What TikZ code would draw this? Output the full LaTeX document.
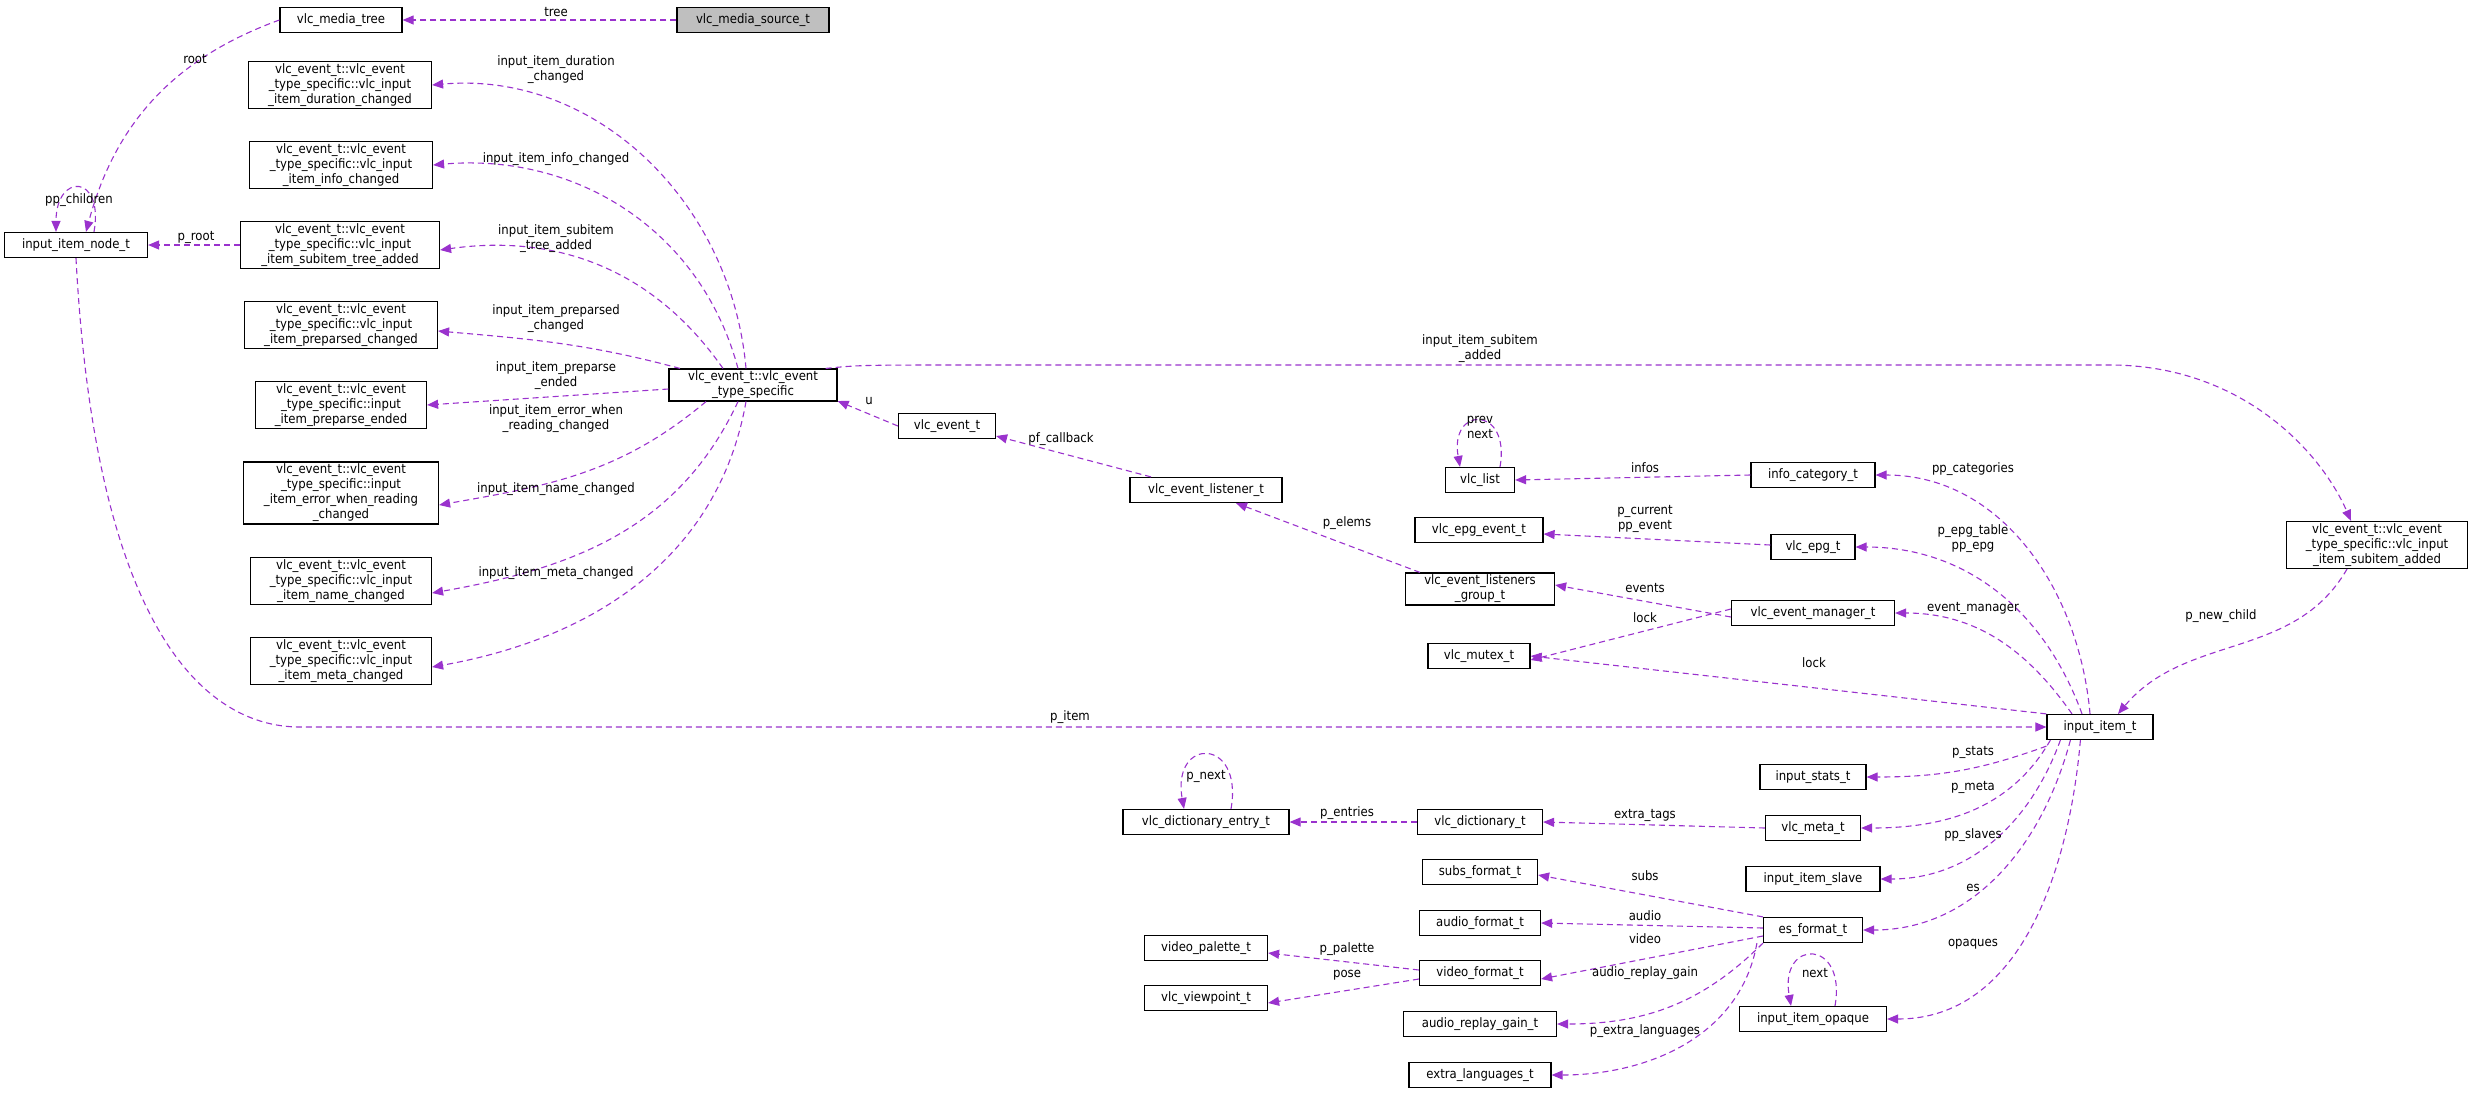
\documentclass[tikz,border=0pt]{standalone}
\usepackage{fontspec}
\setmainfont{DejaVu Sans Condensed}
\usetikzlibrary{arrows.meta, positioning}
\definecolor{edgecol}{HTML}{9A32CD}
\tikzstyle{edge} = [edgecol, dashed, line width=1.1pt, dash pattern=on 6pt off 4pt, -{Triangle[length=11pt,width=9pt]}]

\begin{document}
\begin{tikzpicture}[x=1pt, y=-1pt,
    cls/.style={draw, line width=1.2pt, align=center, inner sep=2pt, minimum height=25pt,
      font=\fontsize{13}{15}\selectfont},
    lbl/.style={align=center, inner sep=0pt, font=\fontsize{13}{15}\selectfont}
  ]
  \useasboundingbox (0,0) rectangle (2473,1093);

  % left column
  \node[cls, fill=black!25, minimum width=152pt] (src) at (753,20) {vlc\_media\_source\_t};
  \node[cls, minimum width=122pt] (mtree) at (341,20) {vlc\_media\_tree};
  \node[cls, minimum width=143pt] (inode) at (76,245) {input\_item\_node\_t};
  \node[cls, minimum width=183pt] (dur) at (340,85) {vlc\_event\_t::vlc\_event\\\_type\_specific::vlc\_input\\\_item\_duration\_changed};
  \node[cls, minimum width=183pt] (info) at (341,165) {vlc\_event\_t::vlc\_event\\\_type\_specific::vlc\_input\\\_item\_info\_changed};
  \node[cls, minimum width=199pt] (stree) at (340,245) {vlc\_event\_t::vlc\_event\\\_type\_specific::vlc\_input\\\_item\_subitem\_tree\_added};
  \node[cls, minimum width=193pt] (prsd) at (341,325) {vlc\_event\_t::vlc\_event\\\_type\_specific::vlc\_input\\\_item\_preparsed\_changed};
  \node[cls, minimum width=171pt] (prend) at (341,405) {vlc\_event\_t::vlc\_event\\\_type\_specific::input\\\_item\_preparse\_ended};
  \node[cls, minimum width=195pt] (err) at (341,493) {vlc\_event\_t::vlc\_event\\\_type\_specific::input\\\_item\_error\_when\_reading\\\_changed};
  \node[cls, minimum width=181pt] (name) at (341,581) {vlc\_event\_t::vlc\_event\\\_type\_specific::vlc\_input\\\_item\_name\_changed};
  \node[cls, minimum width=181pt] (meta) at (341,661) {vlc\_event\_t::vlc\_event\\\_type\_specific::vlc\_input\\\_item\_meta\_changed};
  \node[cls, minimum width=168pt] (ts) at (753,385) {vlc\_event\_t::vlc\_event\\\_type\_specific};

  % middle
  \node[cls, minimum width=97pt] (evt) at (947,426) {vlc\_event\_t};
  \node[cls, minimum width=152pt] (lsn) at (1206,490) {vlc\_event\_listener\_t};
  \node[cls, minimum width=69pt] (list) at (1480,480) {vlc\_list};
  \node[cls, minimum width=128pt] (epgev) at (1479,530) {vlc\_epg\_event\_t};
  \node[cls, minimum width=149pt] (grp) at (1480,589) {vlc\_event\_listeners\\\_group\_t};
  \node[cls, minimum width=102pt] (mutex) at (1479,656) {vlc\_mutex\_t};
  \node[cls, minimum width=166pt] (dent) at (1206,822) {vlc\_dictionary\_entry\_t};
  \node[cls, minimum width=125pt] (dict) at (1480,822) {vlc\_dictionary\_t};
  \node[cls, minimum width=115pt] (subs) at (1480,872) {subs\_format\_t};
  \node[cls, minimum width=121pt] (afmt) at (1480,923) {audio\_format\_t};
  \node[cls, minimum width=121pt] (vfmt) at (1480,973) {video\_format\_t};
  \node[cls, minimum width=123pt] (pal) at (1206,948) {video\_palette\_t};
  \node[cls, minimum width=123pt] (vp) at (1206,998) {vlc\_viewpoint\_t};
  \node[cls, minimum width=153pt] (arg) at (1480,1024) {audio\_replay\_gain\_t};
  \node[cls, minimum width=142pt] (xlang) at (1480,1075) {extra\_languages\_t};

  % right
  \node[cls, minimum width=124pt] (icat) at (1813,475) {info\_category\_t};
  \node[cls, minimum width=84pt] (epg) at (1813,547) {vlc\_epg\_t};
  \node[cls, minimum width=163pt] (mgr) at (1813,613) {vlc\_event\_manager\_t};
  \node[cls, minimum width=106pt] (stats) at (1813,777) {input\_stats\_t};
  \node[cls, minimum width=95pt] (vmeta) at (1813,828) {vlc\_meta\_t};
  \node[cls, minimum width=134pt] (slave) at (1813,879) {input\_item\_slave};
  \node[cls, minimum width=99pt] (es) at (1813,930) {es\_format\_t};
  \node[cls, minimum width=147pt] (opq) at (1813,1019) {input\_item\_opaque};
  \node[cls, minimum width=106pt] (item) at (2100,727) {input\_item\_t};
  \node[cls, minimum width=181pt] (sadd) at (2377,545) {vlc\_event\_t::vlc\_event\\\_type\_specific::vlc\_input\\\_item\_subitem\_added};

  % connectors
  \draw[edge] (src) -- (mtree);
  \draw[edge] (mtree.west) to[out=200,in=75] ([xshift=10pt]inode.north);
  \draw[edge] ([xshift=18pt]inode.north) to[out=80,in=90,looseness=4] ([xshift=-20pt]inode.north);
  \draw[edge] (stree) -- (inode);
  \draw[edge] ([xshift=-7pt]ts.north) to[out=95,in=5] (dur.east);
  \draw[edge] ([xshift=-15pt]ts.north) to[out=105,in=5] (info.east);
  \draw[edge] ([xshift=-30pt]ts.north) to[out=125,in=8] ([yshift=-5pt]stree.east);
  \draw[edge] ([xshift=-73pt]ts.north) to[out=165,in=-5] ([yshift=-6pt]prsd.east);
  \draw[edge] ([yshift=-4pt]ts.west) -- (prend.east);
  \draw[edge] ([xshift=-47pt]ts.south) to[out=-140,in=10] ([yshift=-12pt]err.east);
  \draw[edge] ([xshift=-15pt]ts.south) to[out=-115,in=10] ([yshift=-12pt]name.east);
  \draw[edge] ([xshift=-7pt]ts.south) to[out=-100,in=10] ([yshift=-6pt]meta.east);
  \draw[edge] (evt.west) -- ([yshift=-16pt]ts.east);
  \draw[edge] ([xshift=-55pt]lsn.north) -- ([yshift=-10pt]evt.east);
  \draw[edge] ([xshift=-60pt]grp.north) -- ([xshift=30pt]lsn.south);
  \draw[edge] ([xshift=-12pt]ts.north east) .. controls (860,365) .. (980,365) -- (2110,365) .. controls (2240,365) and (2320,450) .. ([xshift=-26pt]sadd.north);
  \draw[edge] ([xshift=20pt]list.north) to[out=80,in=100,looseness=4] ([xshift=-20pt]list.north);
  \draw[edge] (icat.west) -- (list.east);
  \draw[edge] ([yshift=2pt]epg.west) -- ([yshift=-4pt]epgev.east);
  \draw[edge] ([yshift=-4pt]mgr.west) -- ([yshift=4pt]grp.east);
  \draw[edge] ([yshift=4pt]mgr.west) -- ([yshift=-4pt]mutex.east);
  \draw[edge] ([xshift=-10pt]item.north) to[out=95,in=0] (icat.east);
  \draw[edge] ([xshift=-18pt]item.north) to[out=110,in=0] (epg.east);
  \draw[edge] ([xshift=-28pt]item.north) to[out=125,in=0] (mgr.east);
  \draw[edge] (item.north west) -- (mutex.east);
  \draw[edge] ([xshift=-30pt]sadd.south) to[out=-120,in=50] ([xshift=18pt]item.north);
  \draw[edge] (inode.south) .. controls (95,620) and (200,727) .. (300,727) -- (item.west);
  \draw[edge] ([yshift=-6pt]item.south west) to[out=-160,in=0] (stats.east);
  \draw[edge] ([xshift=4pt]item.south west) to[out=-120,in=0] (vmeta.east);
  \draw[edge] ([xshift=14pt]item.south west) to[out=-110,in=0] (slave.east);
  \draw[edge] ([xshift=24pt]item.south west) to[out=-105,in=0] (es.east);
  \draw[edge] ([xshift=34pt]item.south west) to[out=-95,in=0] (opq.east);
  \draw[edge] ([xshift=22pt]opq.north) to[out=80,in=100,looseness=4] ([xshift=-22pt]opq.north);
  \draw[edge] (vmeta.west) -- (dict.east);
  \draw[edge] (dict.west) -- (dent.east);
  \draw[edge] ([xshift=25pt]dent.north) to[out=80,in=100,looseness=4] ([xshift=-22pt]dent.north);
  \draw[edge] (es.north west) -- ([yshift=-3pt]subs.east);
  \draw[edge] ([yshift=2pt]es.west) -- (afmt.east);
  \draw[edge] ([yshift=-6pt]es.west) -- ([yshift=-6pt]vfmt.east);
  \draw[edge] (es.south west) to[out=-135,in=0] (arg.east);
  \draw[edge] ([xshift=-6pt]es.south west) to[out=-100,in=0] (xlang.east);
  \draw[edge] ([yshift=3pt]vfmt.west) -- ([yshift=-5pt]pal.east);
  \draw[edge] ([yshift=-6pt]vfmt.west) -- ([yshift=-5pt]vp.east);

  % connector labels
  \node[lbl] (ltree) at (556,12) {tree};
  \node[lbl] (lroot) at (195,59) {root};
  \node[lbl] (lchild) at (79,200) {pp\_children};
  \node[lbl] (lproot) at (196,237) {p\_root};
  \node[lbl] (ldur) at (556,70) {input\_item\_duration\\\_changed};
  \node[lbl] (linfo) at (556,159) {input\_item\_info\_changed};
  \node[lbl] (lstree) at (556,239) {input\_item\_subitem\\\_tree\_added};
  \node[lbl] (lprsd) at (556,319) {input\_item\_preparsed\\\_changed};
  \node[lbl] (lprend) at (556,376) {input\_item\_preparse\\\_ended};
  \node[lbl] (lerr) at (556,419) {input\_item\_error\_when\\\_reading\_changed};
  \node[lbl] (lname) at (556,489) {input\_item\_name\_changed};
  \node[lbl] (lmeta) at (556,573) {input\_item\_meta\_changed};
  \node[lbl] (lu) at (869,401) {u};
  \node[lbl] (lcb) at (1061,439) {pf\_callback};
  \node[lbl] (lelems) at (1347,523) {p\_elems};
  \node[lbl] (lprev) at (1480,427) {prev\\next};
  \node[lbl] (linfos) at (1645,468) {infos};
  \node[lbl] (lcur) at (1645,519) {p\_current\\pp\_event};
  \node[lbl] (levents) at (1645,588) {events};
  \node[lbl] (llock) at (1645,618) {lock};
  \node[lbl] (lsadd) at (1480,349) {input\_item\_subitem\\\_added};
  \node[lbl] (lcat) at (1973,469) {pp\_categories};
  \node[lbl] (lepg) at (1973,539) {p\_epg\_table\\pp\_epg};
  \node[lbl] (lmgr) at (1973,608) {event\_manager};
  \node[lbl] (lnew) at (2221,616) {p\_new\_child};
  \node[lbl] (llock2) at (1814,663) {lock};
  \node[lbl] (litem) at (1070,717) {p\_item};
  \node[lbl] (lstats) at (1973,752) {p\_stats};
  \node[lbl] (lpmeta) at (1973,787) {p\_meta};
  \node[lbl] (lslave) at (1973,835) {pp\_slaves};
  \node[lbl] (les) at (1973,888) {es};
  \node[lbl] (lopq) at (1973,944) {opaques};
  \node[lbl] (lnext) at (1815,973) {next};
  \node[lbl] (lpnext) at (1206,776) {p\_next};
  \node[lbl] (lent) at (1347,813) {p\_entries};
  \node[lbl] (ltags) at (1645,815) {extra\_tags};
  \node[lbl] (lsubs) at (1645,876) {subs};
  \node[lbl] (laudio) at (1645,916) {audio};
  \node[lbl] (lvideo) at (1645,939) {video};
  \node[lbl] (lpal) at (1347,949) {p\_palette};
  \node[lbl] (lpose) at (1347,975) {pose};
  \node[lbl] (larg) at (1645,973) {audio\_replay\_gain};
  \node[lbl] (lxl) at (1645,1031) {p\_extra\_languages};

\end{tikzpicture}
\end{document}
